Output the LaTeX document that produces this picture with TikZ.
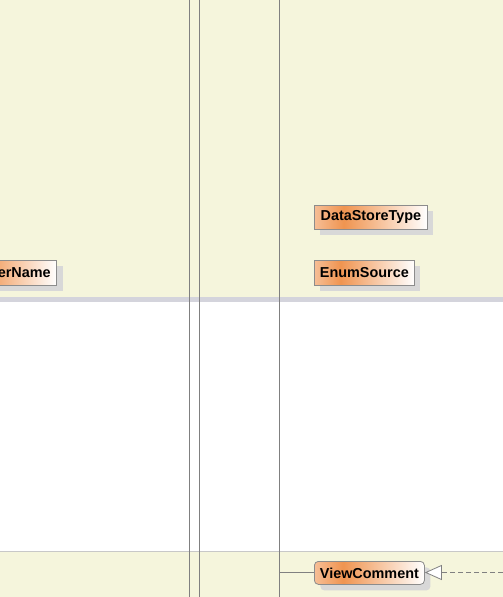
\documentclass[tikz,border=0pt]{standalone}
\usepackage{fontspec}
\setmainfont{Liberation Sans}
\usetikzlibrary{arrows.meta,shadows}
\definecolor{beige}{RGB}{245,245,220}
\definecolor{band}{RGB}{212,212,220}
\definecolor{sepline}{RGB}{200,200,200}
\definecolor{vline}{RGB}{128,128,128}
\definecolor{bordr}{RGB}{140,140,140}
\definecolor{shad}{RGB}{216,216,216}
\definecolor{orA}{RGB}{246,190,150}
\definecolor{orB}{RGB}{240,148,80}
\pgfdeclarehorizontalshading{boxshade}{100bp}{color(0bp)=(orA); color(25bp)=(orA); color(38bp)=(orB); color(75bp)=(white); color(100bp)=(white)}
\tikzset{
  cls/.style={draw=bordr, line width=0.8pt, shading=boxshade, minimum height=24pt, inner sep=0pt,
    font=\fontsize{14.4}{15}\selectfont\bfseries,
    general shadow={fill=shad, shadow xshift=6pt, shadow yshift=-6pt}},
  conn/.style={draw=vline, line width=0.8pt},
}
\begin{document}
\begin{tikzpicture}[x=1pt,y=-1pt]
\useasboundingbox (0,0) rectangle (503,597);
\clip (0,0) rectangle (503,597);
% backgrounds
\fill[beige] (0,0) rectangle (503,297);
\fill[band] (0,297) rectangle (503,302);
\fill[white] (0,302) rectangle (503,551);
\fill[beige] (0,551) rectangle (503,597);
\draw[sepline, line width=1pt] (0,551) -- (503,551);
% vertical lines
\draw[conn] (189,0) -- (189,597);
\draw[conn] (199,0) -- (199,597);
\draw[conn] (279,0) -- (279,597);
% classes
\node[cls, minimum width=113pt, anchor=north west] (dst) at (314,205) {DataStoreType};
\node[cls, minimum width=100pt, minimum height=25pt, anchor=north west] (enum) at (314,260) {EnumSource};
\node[cls, minimum height=25pt, text width=90pt, align=right, inner xsep=6pt, anchor=north east] (owner) at (57,260) {erName};
\node[cls, minimum width=110pt, minimum height=23pt, rounded corners=4pt, anchor=north west] (vc) at (314,561) {ViewComment};
% connectors
\coordinate (lf) at (279,572.5);
\coordinate (rf) at (503,572.5);
\draw[conn] (lf) -- (lf -| vc.west);
\draw[conn, dashed, dash pattern=on 5pt off 3pt, -{Triangle[open, fill=white, length=17pt, width=15pt]}] (rf) -- (rf -| vc.east);
\end{tikzpicture}
\end{document}
